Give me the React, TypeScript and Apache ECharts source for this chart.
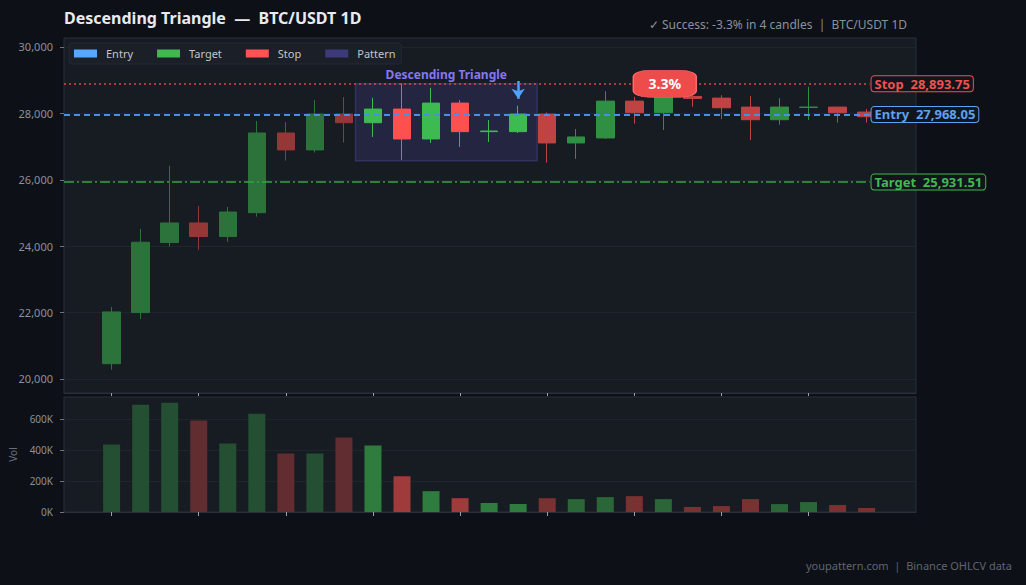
import React, { useEffect, useRef } from "react";
import * as echarts from "echarts";

const opens = [20460, 22000, 24110, 24700, 24290, 25010, 27410, 26900, 27980, 27720, 28130, 27230, 28310, 27450, 27450, 27980, 27110, 27260, 28370, 28020, 28510, 28460, 28190, 27810, 28180, 28190, 28040];
const closes = [22020, 24120, 24700, 24290, 25030, 27410, 26900, 27980, 27720, 28130, 27230, 28310, 27450, 27470, 27980, 27110, 27290, 28370, 28020, 28700, 28450, 28170, 27810, 28190, 28190, 28020, 27900];
const lows = [20280, 21810, 23990, 23890, 24130, 24890, 26580, 26820, 27120, 27290, 26600, 27110, 26990, 27140, 27410, 26520, 26630, 27230, 27690, 27500, 28200, 27830, 27200, 27660, 27800, 27720, 27720];
const highs = [22170, 24520, 26420, 25210, 25180, 27770, 27740, 28400, 28490, 28470, 28900, 28770, 28400, 27800, 28230, 28030, 27530, 28670, 28500, 28880, 28580, 28550, 28520, 28460, 28800, 28200, 28130];
const volumes = [434000, 690000, 703000, 588000, 441000, 633000, 377000, 377000, 479000, 428000, 230000, 134000, 89000, 58000, 51000, 89000, 83000, 96000, 102000, 83000, 32000, 38000, 83000, 51000, 64000, 45000, 26000];

const priceTicks = [20000, 22000, 24000, 26000, 28000, 30000];
const volTicks = [0, 200000, 400000, 600000];
const xTicks = [0, 3, 6, 9, 12, 15, 18, 21, 24];

const ENTRY = 27968.05;
const STOP = 28893.75;
const TARGET = 25931.51;
const PATTERN_START = 9;
const PATTERN_END = 14;
const PATTERN_LOW = 26570;
const BADGE_INDEX = 19;
const BADGE_TEXT = "3.3%";

const X_MIN = -1.64;
const X_MAX = 27.7;

const fmt = (v: number) => v.toLocaleString("en-US", { minimumFractionDigits: 2, maximumFractionDigits: 2 });

function phase(i: number) {
  if (i < PATTERN_START) return "pre";
  if (i <= PATTERN_END) return "pat";
  return "post";
}

const candleColors: Record<string, { up: string; down: string }> = {
  pre: { up: "#2c733b", down: "#963737" },
  pat: { up: "#3dbb50", down: "#ff5050" },
  post: { up: "#2f8f42", down: "#bf4343" },
};
const volColors: Record<string, { up: string; down: string }> = {
  pre: { up: "#244f33", down: "#622d30" },
  pat: { up: "#2e7d3e", down: "#a03b3b" },
  post: { up: "#2a6637", down: "#7a3131" },
};

export default function App() {
  const ref = useRef<HTMLDivElement>(null);
  useEffect(() => {
    if (!ref.current) return;
    const chart = echarts.init(ref.current, undefined, { renderer: "svg" });

    const candleData = opens.map((o, i) => {
      const c = candleColors[phase(i)];
      const col = closes[i] >= o ? c.up : c.down;
      return {
        value: [i, o, closes[i], lows[i], highs[i]],
        itemStyle: { color: col, color0: col, borderColor: col, borderColor0: col },
      };
    });
    const volData = volumes.map((v, i) => {
      const c = volColors[phase(i)];
      return { value: [i, v], itemStyle: { color: closes[i] >= opens[i] ? c.up : c.down } };
    });

    const lastX = opens.length - 1 + 0.1;
    const endLabel = (text: string, color: string) => ({
      show: true,
      position: "end",
      distance: 2,
      formatter: text,
      color,
      fontWeight: "bold",
      fontSize: 13,
      fontFamily: "Noto Sans",
      backgroundColor: "#12151b",
      borderColor: color,
      borderWidth: 1,
      borderRadius: 3,
      padding: [1, 3, 1, 3],
    });

    const option: any = {
      animation: false,
      backgroundColor: "#0d1017",
      textStyle: { fontFamily: "Noto Sans" },
      title: {
        text: "Descending Triangle  —  BTC/USDT 1D",
        left: 59,
        top: 5,
        textStyle: { color: "#e8eaf0", fontSize: 16, fontWeight: "bold", fontFamily: "Noto Sans" },
      },
      legend: {
        left: 69,
        top: 43,
        icon: "rect",
        itemWidth: 23,
        itemHeight: 8,
        itemGap: 24,
        padding: [5, 6, 5, 5],
        backgroundColor: "#1b1f27",
        borderColor: "#242831",
        borderWidth: 1,
        borderRadius: 3,
        textStyle: { color: "#c0c5ce", fontSize: 11, padding: [0, 0, 0, 4] },
        data: ["Entry", "Target", "Stop", "Pattern"],
      },
      graphic: [
        {
          type: "text",
          right: 119,
          top: 18,
          style: { text: "✓ Success: -3.3% in 4 candles  |  BTC/USDT 1D", fill: "#8b919c", font: "12px 'Noto Sans'" },
        },
        {
          type: "text",
          right: 14,
          top: 560,
          style: { text: "youpattern.com  |  Binance OHLCV data", fill: "#5f6570", font: "11px 'Noto Sans'" },
        },
      ],
      grid: [
        { left: 64, right: 110, top: 38, height: 355, show: true, backgroundColor: "#171b22", borderColor: "#2a2f3a", borderWidth: 1 },
        { left: 64, right: 110, top: 397, height: 115, show: true, backgroundColor: "#171b22", borderColor: "#2a2f3a", borderWidth: 1 },
      ],
      xAxis: [
        {
          type: "value",
          gridIndex: 0,
          min: X_MIN,
          max: X_MAX,
          axisLine: { show: true, onZero: false, lineStyle: { color: "#2a2f3a" } },
          axisTick: { show: true, customValues: xTicks, length: 3, lineStyle: { color: "#9aa0aa" } },
          axisLabel: { show: false },
          splitLine: { show: false },
        },
        {
          type: "value",
          gridIndex: 1,
          min: X_MIN,
          max: X_MAX,
          axisLine: { show: true, onZero: false, lineStyle: { color: "#2a2f3a" } },
          axisTick: { show: true, customValues: xTicks, length: 4, lineStyle: { color: "#9aa0aa" } },
          axisLabel: { show: false },
          splitLine: { show: false },
        },
      ],
      yAxis: [
        {
          type: "value",
          gridIndex: 0,
          min: 19578,
          max: 30271,
          axisLine: { show: false, onZero: false },
          axisTick: { show: true, customValues: priceTicks, length: 4, lineStyle: { color: "#6b7280" } },
          axisLabel: { customValues: priceTicks, color: "#8b919c", fontSize: 11, margin: 11, formatter: (v: number) => v.toLocaleString("en-US") },
          splitLine: { show: true, lineStyle: { color: "#20242c" } },
        },
        {
          type: "value",
          gridIndex: 1,
          min: 0,
          max: 740000,
          name: "Vol",
          nameLocation: "middle",
          nameGap: 46,
          nameTextStyle: { color: "#6b7280", fontSize: 10 },
          axisLine: { show: false, onZero: false },
          axisTick: { show: true, customValues: volTicks, length: 4, lineStyle: { color: "#6b7280" } },
          axisLabel: { customValues: volTicks, color: "#8b919c", fontSize: 10, margin: 11, formatter: (v: number) => v / 1000 + "K" },
          splitLine: { show: true, lineStyle: { color: "#20242c" } },
        },
      ],
      series: [
        {
          name: "Pattern",
          type: "line",
          xAxisIndex: 0,
          yAxisIndex: 0,
          data: [],
          z: 1,
          itemStyle: { color: "#3c3a7a" },
          lineStyle: { color: "#3c3a7a" },
          markArea: {
            silent: true,
            itemStyle: { color: "rgba(60,58,122,0.35)", borderColor: "#34325f", borderWidth: 1.5 },
            label: {
              show: true,
              position: "top",
              distance: 2,
              color: "#8577f0",
              fontWeight: "bold",
              fontSize: 12,
            },
            data: [
              [
                { name: "Descending Triangle", xAxis: PATTERN_START - 0.6, yAxis: PATTERN_LOW },
                { xAxis: PATTERN_END + 0.65, yAxis: STOP },
              ],
            ],
          },
        },
        {
          name: "OHLC",
          type: "candlestick",
          xAxisIndex: 0,
          yAxisIndex: 0,
          barWidth: 18,
          z: 2,
          data: candleData,
        },
        {
          name: "Volume",
          type: "bar",
          xAxisIndex: 1,
          yAxisIndex: 1,
          barWidth: 17,
          data: volData,
        },
        {
          name: "Entry",
          type: "line",
          xAxisIndex: 0,
          yAxisIndex: 0,
          data: [],
          z: 5,
          itemStyle: { color: "#58a6ff" },
          lineStyle: { color: "#58a6ff" },
          markLine: {
            silent: true,
            symbol: ["none", "none"],
            data: [
              [
                { coord: [X_MIN, ENTRY], lineStyle: { color: "#4a90e2", width: 2, type: [6, 4] }, label: endLabel("Entry  " + fmt(ENTRY), "#5aa2f2") },
                { coord: [lastX, ENTRY] },
              ],
              [
                { coord: [PATTERN_END, 28976], symbol: "none", lineStyle: { color: "#4da3ff", width: 2.5, type: "solid" }, label: { show: false } },
                { coord: [PATTERN_END, 28440], symbol: "arrow", symbolSize: [10, 10] },
              ],
            ],
          },
        },
        {
          name: "Target",
          type: "line",
          xAxisIndex: 0,
          yAxisIndex: 0,
          data: [],
          z: 5,
          itemStyle: { color: "#3fb950" },
          lineStyle: { color: "#3fb950" },
          markLine: {
            silent: true,
            symbol: ["none", "none"],
            data: [
              [
                { coord: [X_MIN, TARGET], lineStyle: { color: "#37a046", width: 1.5, type: [10, 3, 2, 3] }, label: endLabel("Target  " + fmt(TARGET), "#3fb950") },
                { coord: [lastX, TARGET] },
              ],
            ],
          },
        },
        {
          name: "Stop",
          type: "line",
          xAxisIndex: 0,
          yAxisIndex: 0,
          data: [],
          z: 5,
          itemStyle: { color: "#ff5252" },
          lineStyle: { color: "#ff5252" },
          markLine: {
            silent: true,
            symbol: ["none", "none"],
            data: [
              [
                { coord: [X_MIN, STOP], lineStyle: { color: "#d94848", width: 1.5, type: [2, 3] }, label: endLabel("Stop  " + fmt(STOP), "#f05050") },
                { coord: [lastX, STOP] },
              ],
            ],
          },
          markPoint: {
            silent: true,
            data: [
              {
                coord: [BADGE_INDEX + 0.05, STOP],
                symbol: "roundRect",
                symbolSize: [63, 27],
                itemStyle: { color: "#ee4b4b", borderColor: "#ff6b6b", borderWidth: 1 },
                label: { show: true, formatter: BADGE_TEXT, color: "#ffffff", fontWeight: "bold", fontSize: 14 },
              },
            ],
          },
        },
      ],
    };

    chart.setOption(option);
    return () => chart.dispose();
  }, []);

  return (
    <div style={{ position: "fixed", left: 0, top: 0, width: 1026, height: 585, background: "#0d1017" }}>
      <div ref={ref} style={{ width: 1026, height: 585 }} />
    </div>
  );
}
